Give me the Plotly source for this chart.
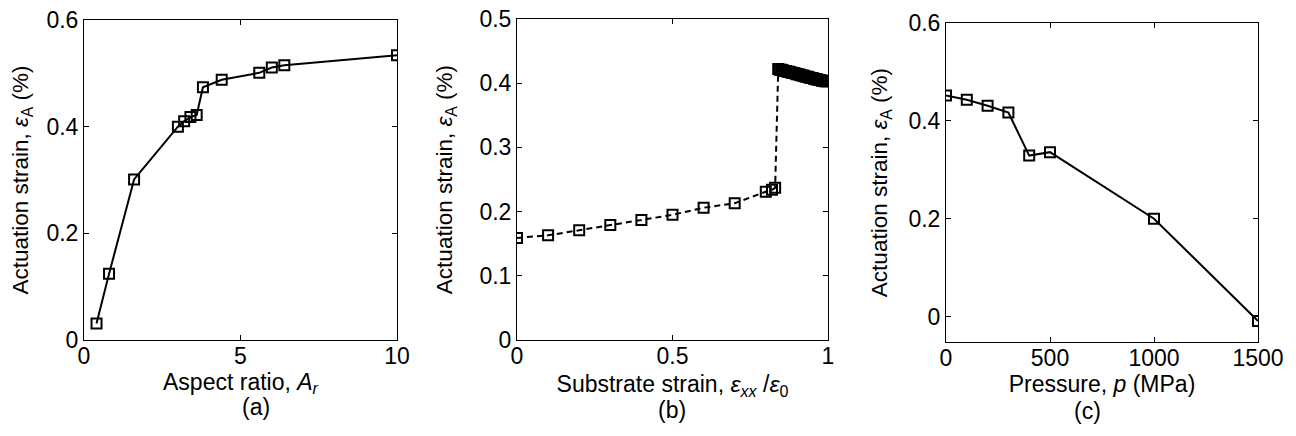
import plotly.graph_objects as go

# (a) actuation strain vs aspect ratio
aspect_ratio = [0.4, 0.8, 1.6, 3.0, 3.2, 3.4, 3.6, 3.8, 4.4, 5.6, 6.0, 6.4, 10.0]
strain_a = [0.031, 0.124, 0.301, 0.400, 0.410, 0.418, 0.422, 0.474, 0.488, 0.501, 0.511, 0.515, 0.534]

# (b) actuation strain vs substrate strain
substrate = [0.0, 0.1, 0.2, 0.3, 0.4, 0.5, 0.6, 0.7, 0.8, 0.82, 0.83,
             0.84, 0.845, 0.85, 0.855, 0.86, 0.865, 0.87, 0.875, 0.88, 0.885,
             0.89, 0.895, 0.90, 0.905, 0.91, 0.915, 0.92, 0.925, 0.93, 0.935,
             0.94, 0.945, 0.95, 0.955, 0.96, 0.965, 0.97, 0.975, 0.98, 0.985,
             0.99, 0.995, 1.0]
strain_b = [0.159, 0.163, 0.171, 0.179, 0.187, 0.195, 0.206, 0.213, 0.231, 0.234, 0.237,
            0.422, 0.421, 0.421, 0.420, 0.419, 0.419, 0.418, 0.418, 0.417, 0.416,
            0.416, 0.415, 0.414, 0.414, 0.413, 0.412, 0.412, 0.411, 0.410, 0.410,
            0.409, 0.408, 0.408, 0.407, 0.406, 0.406, 0.405, 0.405, 0.404, 0.404,
            0.403, 0.403, 0.403]

# (c) actuation strain vs pressure
pressure = [0, 100, 200, 300, 400, 500, 1000, 1500]
strain_c = [0.452, 0.443, 0.431, 0.417, 0.329, 0.336, 0.200, -0.009]

FONT = "Liberation Sans"
ytitle = "Actuation strain, <i>ε</i><sub>A</sub> (%)"

fig = go.Figure()

mk = dict(symbol="square-open", size=10, color="black", line=dict(width=2, color="black"))
fig.add_trace(go.Scatter(x=aspect_ratio, y=strain_a, mode="lines+markers",
                         line=dict(color="black", width=2), marker=mk,
                         xaxis="x", yaxis="y"))
fig.add_trace(go.Scatter(x=substrate, y=strain_b, mode="lines+markers",
                         line=dict(color="black", width=2, dash="6px,4px"), marker=mk,
                         xaxis="x2", yaxis="y2"))
fig.add_trace(go.Scatter(x=pressure, y=strain_c, mode="lines+markers",
                         line=dict(color="black", width=2), marker=mk,
                         xaxis="x3", yaxis="y3"))

W, H = 1296, 436


def xd(a, b):
    return [a / W, b / W]


def yd(top, bottom):
    return [(H - bottom) / H, (H - top) / H]


ax = dict(showline=True, linecolor="black", linewidth=1, mirror="ticks",
          ticks="inside", ticklen=5, tickcolor="black", showgrid=False,
          zeroline=False, tickfont=dict(size=23, color="black", family=FONT),
          ticklabeloverflow="allow", automargin=False)
xt = dict(ax, ticklabelstandoff=-5)
xfont = dict(size=23, family=FONT, color="black")
yfont = dict(size=22.5, family=FONT, color="black")

fig.update_layout(
    width=W, height=H,
    margin=dict(l=0, r=0, t=0, b=0),
    paper_bgcolor="white", plot_bgcolor="white",
    showlegend=False,
    font=dict(family=FONT, color="black", size=23),
    xaxis=dict(xt, domain=xd(76, 389), range=[0, 10], tickvals=[0, 5, 10],
               title=dict(text="Aspect ratio, <i>A<sub>r</sub></i>", standoff=0, font=xfont)),
    yaxis=dict(ax, domain=yd(12, 332), range=[0, 0.6], tickvals=[0, 0.2, 0.4, 0.6],
               ticktext=["0", "0.2", "0.4", "0.6"],
               title=dict(text=ytitle, standoff=16, font=yfont)),
    xaxis2=dict(xt, anchor="y2", domain=xd(509, 820), range=[0, 1], tickvals=[0, 0.5, 1],
                ticktext=["0", "0.5", "1"],
                title=dict(text="Substrate strain, <i>ε<sub>xx</sub></i> /<i>ε</i><sub>0</sub>",
                           standoff=8, font=xfont)),
    yaxis2=dict(ax, anchor="x2", domain=yd(11, 332), range=[0, 0.5],
                tickvals=[0, 0.1, 0.2, 0.3, 0.4, 0.5],
                ticktext=["0", "0.1", "0.2", "0.3", "0.4", "0.5"],
                title=dict(text=ytitle, standoff=20, font=yfont)),
    xaxis3=dict(xt, anchor="y3", domain=xd(938, 1250), range=[0, 1500],
                tickvals=[0, 500, 1000, 1500],
                title=dict(text="Pressure, <i>p</i> (MPa)", standoff=1, font=xfont)),
    yaxis3=dict(ax, anchor="x3", domain=yd(15, 334), range=[-0.052, 0.6],
                tickvals=[0, 0.2, 0.4, 0.6], ticktext=["0", "0.2", "0.4", "0.6"],
                title=dict(text=ytitle, standoff=14, font=yfont)),
)

for label, xc, yc in [("(a)", 232, 414), ("(b)", 664, 417), ("(c)", 1095, 418)]:
    fig.add_annotation(text=label, x=xc / W, y=(H - yc) / H, xref="paper", yref="paper",
                       showarrow=False, font=dict(size=23, family=FONT, color="black"))

fig.write_html("out.html")
